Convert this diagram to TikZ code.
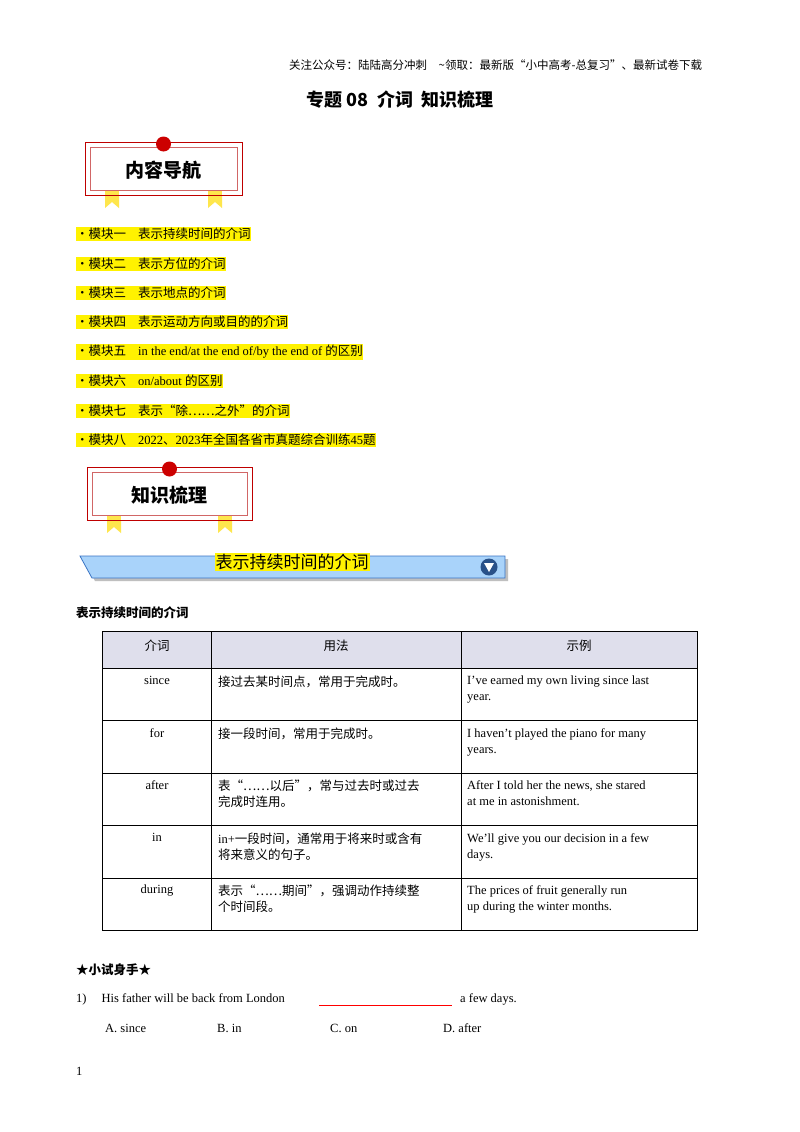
\documentclass[tikz,border=0pt]{standalone}
\usepackage{fontspec}
\setmainfont{Liberation Serif}
\newfontfamily\cjk{Noto Sans CJK SC}
\definecolor{banfill}{HTML}{A9D3FA}
\definecolor{banedge}{HTML}{3A74C4}
\begin{document}
\begin{tikzpicture}[x=1pt,y=-1pt,
  body/.style={font=\fontsize{12.5}{15}\selectfont, inner sep=0pt, anchor=west},
  hl/.style={body, fill=yellow, inner ysep=1.5pt},
  cell/.style={font=\fontsize{12.5}{16}\selectfont, inner sep=0pt, anchor=north west, align=left},
  ctr/.style={font=\fontsize{12.5}{16}\selectfont, inner sep=0pt, anchor=north},
  badgeline/.style={draw=red!75!black, line width=0.8pt}]
\useasboundingbox (0,0) rectangle (800,1132);
\fill[white] (0,0) rectangle (800,1132);
% header
\node[body, font=\fontsize{11.5}{13}\selectfont\cjk] (hdr) at (289,65) {关注公众号：陆陆高分冲刺\quad \textasciitilde 领取：最新版“小中高考-总复习”、最新试卷下载};
\node[font=\fontsize{18}{20}\selectfont\bfseries\cjk, inner sep=0pt] (title) at (400,100) {专题 08\ \ 介词\ \ 知识梳理};
% badges
\foreach \bx/\by/\bw/\name/\lbl in {85/142/157/b1/内容导航, 87/467/165/b2/知识梳理}{
  \fill[yellow!80!orange!70] (\bx+20,\by+44) -- (\bx+34,\by+44) -- (\bx+34,\by+66) -- (\bx+27,\by+60) -- (\bx+20,\by+66) -- cycle;
  \fill[yellow!80!orange!70] (\bx+\bw-34,\by+44) -- (\bx+\bw-20,\by+44) -- (\bx+\bw-20,\by+66) -- (\bx+\bw-27,\by+60) -- (\bx+\bw-34,\by+66) -- cycle;
  \draw[badgeline, fill=white] (\bx,\by) rectangle (\bx+\bw,\by+53);
  \draw[draw=red!70!black!60, line width=0.6pt] (\bx+5,\by+5) rectangle (\bx+\bw-5,\by+48);
  \fill[yellow!80!orange!70] (\bx+20,\by+49) rectangle (\bx+34,\by+53);
  \fill[yellow!80!orange!70] (\bx+\bw-34,\by+49) rectangle (\bx+\bw-20,\by+53);
  \fill[red!80!black] (\bx+\bw/2,\by+2) circle (7.5);
  \node[font=\fontsize{19}{21}\selectfont\bfseries\cjk, inner sep=0pt] (\name) at (\bx+\bw/2,\by+28) {\lbl};
}
% nav list
\foreach \y/\a/\b [count=\i] in {234/模块一/{\cjk 表示持续时间的介词}, 264/模块二/{\cjk 表示方位的介词}, 293/模块三/{\cjk 表示地点的介词}, 322/模块四/{\cjk 表示运动方向或目的的介词}, 352/模块五/{in the end/at the end of/by the end of {\cjk 的区别}}, 381/模块六/{on/about {\cjk 的区别}}, 411/模块七/{\cjk 表示“除……之外”的介词}, 440/模块八/{2022{\cjk 、}2023{\cjk 年全国各省市真题综合训练}45{\cjk 题}}}{
  \node[hl] (n\i) at (76,\y) {{\cjk ·\a}\hspace{12pt}\b};
}
% banner
\fill[black!25] (83,559) -- (508,559) -- (508,581) -- (95,581) -- cycle;
\draw[draw=banedge, fill=banfill, line width=0.8pt] (80,556) -- (505,556) -- (505,578) -- (92,578) -- cycle;
\node[font=\fontsize{17}{19}\selectfont\cjk, fill=yellow, inner sep=1pt] (ban) at (292,562) {表示持续时间的介词};
\fill[banedge!70!black] (489,567) circle (8.5);
\fill[white] (484,563) -- (494,563) -- (489,572) -- cycle;
% section heading
\node[body, font=\fontsize{12.5}{15}\selectfont\bfseries\cjk] (sec) at (76,613) {表示持续时间的介词};
% table
\fill[blue!25!gray!20] (102,631) rectangle (697,668);
\draw[line width=0.7pt] (102,631) rectangle (697,930);
\foreach \y in {668,720,773,825,878} \draw[line width=0.6pt] (102,\y) -- (697,\y);
\foreach \x in {211,461} \draw[line width=0.6pt] (\x,631) -- (\x,930);
\node[ctr, font=\fontsize{12.5}{16}\selectfont\cjk] (h1) at (157,640) {介词};
\node[ctr, font=\fontsize{12.5}{16}\selectfont\cjk] (h2) at (336,640) {用法};
\node[ctr, font=\fontsize{12.5}{16}\selectfont\cjk] (h3) at (579,640) {示例};
\foreach \y/\p/\u/\e [count=\i] in {
 676/since/{\cjk 接过去某时间点，常用于完成时。}/{I've earned my own living since last\\year.},
 728/for/{\cjk 接一段时间，常用于完成时。}/{I haven't played the piano for many\\years.},
 780/after/{\cjk 表“……以后”，常与过去时或过去\\\cjk 完成时连用。}/{After I told her the news, she stared\\at me in astonishment.},
 833/in/{in+{\cjk 一段时间，通常用于将来时或含有}\\\cjk 将来意义的句子。}/{We'll give you our decision in a few\\days.},
 885/during/{\cjk 表示“……期间”，强调动作持续整\\\cjk 个时间段。}/{The prices of fruit generally run\\up during the winter months.}}{
  \node[ctr] (p\i) at (157,\y) {\p};
  \node[cell] (u\i) at (218,\y) {\u};
  \node[cell] (e\i) at (467,\y) {\e};
}
% exercise
\node[body, font=\fontsize{12.5}{15}\selectfont\bfseries\cjk] (try) at (76,970) {★小试身手★};
\node[body] (q1) at (76,999) {1)\hspace{15pt}His father will be back from London};
\draw[red, line width=0.9pt] (319,1005) -- (452,1005);
\node[body] (q1b) at (460,999) {a few days.};
\node[body] (oa) at (105,1028) {A. since};
\node[body] (ob) at (217,1028) {B. in};
\node[body] (oc) at (330,1028) {C. on};
\node[body] (od) at (443,1028) {D. after};
\node[body] (pg) at (76,1071) {1};
\end{tikzpicture}
\end{document}
